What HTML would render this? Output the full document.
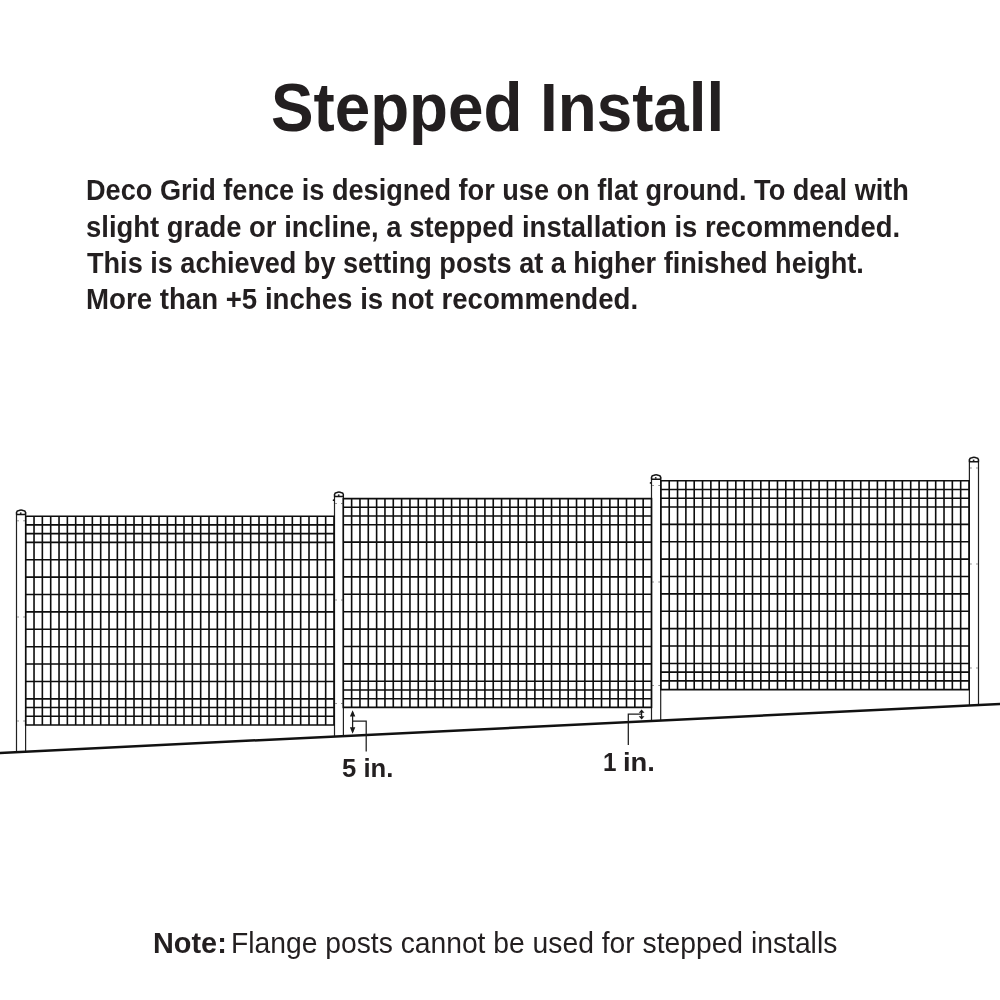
<!DOCTYPE html>
<html lang="en">
<head>
<meta charset="utf-8">
<title>Stepped Install</title>
<style>
html,body{margin:0;padding:0;background:#fff;}
body{width:1000px;height:1000px;position:relative;overflow:hidden;font-family:"Liberation Sans",sans-serif;color:#231f20;}
.t{position:absolute;white-space:nowrap;transform-origin:0 0;font-weight:bold;}
.r{font-weight:normal;}
.fence{position:absolute;left:0;top:0;}
</style>
</head>
<body>

<div class="t" style="left:271.13px;top:67.14px;font-size:68px;line-height:81.6px;transform:scaleX(0.9371)">Stepped Install</div>
<div class="t" style="left:85.76px;top:172.08px;font-size:29.5px;line-height:35.4px;transform:scaleX(0.9201)">Deco Grid fence is designed for use on flat ground. To deal with</div>
<div class="t" style="left:86.27px;top:208.58px;font-size:29.5px;line-height:35.4px;transform:scaleX(0.9300)">slight grade or incline, a stepped installation is recommended.</div>
<div class="t" style="left:87px;top:245.08px;font-size:29.5px;line-height:35.4px;transform:scaleX(0.9185)">This is achieved by setting posts at a higher finished height.</div>
<div class="t" style="left:86.13px;top:281.48px;font-size:29.5px;line-height:35.4px;transform:scaleX(0.9368)">More than +5 inches is not recommended.</div>
<svg class="fence" width="1000" height="1000" viewBox="0 0 1000 1000">
<path d="M16.5 752.09V512.7H25.6V751.65" fill="#fff" stroke="#222" stroke-width="1.2"/>
<path d="M16.6 514.5V512.3Q16.7 510.8 18.9 510.5Q21.05 509.6 23.2 510.5Q25.4 510.8 25.5 512.3V514.5Z" fill="#fff" stroke="#141414" stroke-width="1.5" stroke-linejoin="round"/>
<path d="M19.9 513.2h1.6" fill="none" stroke="#222" stroke-width="1.6"/>
<path d="M17.1 520.8h1.8M25 520.8h-1.8M17.1 617h1.8M25 617h-1.8M17.1 721h1.8M25 721h-1.8" fill="none" stroke="#8a8a8a" stroke-width="1"/>
<path d="M334.5 736.51V494.7H343.4V736.07" fill="#fff" stroke="#222" stroke-width="1.2"/>
<path d="M334.6 496.5V494.3Q334.7 492.8 336.9 492.5Q338.95 491.6 341 492.5Q343.2 492.8 343.3 494.3V496.5Z" fill="#fff" stroke="#141414" stroke-width="1.5" stroke-linejoin="round"/>
<path d="M337.9 495.2h1.6" fill="none" stroke="#222" stroke-width="1.6"/>
<circle cx="333.6" cy="500.2" r="0.9" fill="#111"/>
<path d="M335.1 503.5h1.8M342.8 503.5h-1.8M335.1 600h1.8M342.8 600h-1.8M335.1 703.5h1.8M342.8 703.5h-1.8" fill="none" stroke="#8a8a8a" stroke-width="1"/>
<path d="M651.5 720.98V477.4H660.7V720.53" fill="#fff" stroke="#222" stroke-width="1.2"/>
<path d="M651.6 479.2V477Q651.7 475.5 653.9 475.2Q656.1 474.3 658.3 475.2Q660.5 475.5 660.6 477V479.2Z" fill="#fff" stroke="#141414" stroke-width="1.5" stroke-linejoin="round"/>
<path d="M654.9 477.9h1.6" fill="none" stroke="#222" stroke-width="1.6"/>
<circle cx="650.6" cy="482.9" r="0.9" fill="#111"/>
<path d="M652.1 485.5h1.8M660.1 485.5h-1.8M652.1 582h1.8M660.1 582h-1.8M652.1 685.5h1.8M660.1 685.5h-1.8" fill="none" stroke="#8a8a8a" stroke-width="1"/>
<path d="M969.4 705.4V459.9H978.5V704.95" fill="#fff" stroke="#222" stroke-width="1.2"/>
<path d="M969.5 461.7V459.5Q969.6 458 971.8 457.7Q973.95 456.8 976.1 457.7Q978.3 458 978.4 459.5V461.7Z" fill="#fff" stroke="#141414" stroke-width="1.5" stroke-linejoin="round"/>
<path d="M972.8 460.4h1.6" fill="none" stroke="#222" stroke-width="1.6"/>
<path d="M970 468h1.8M977.9 468h-1.8M970 564h1.8M977.9 564h-1.8M970 668h1.8M977.9 668h-1.8" fill="none" stroke="#8a8a8a" stroke-width="1"/>
<path d="M25.7 515.5V725.7M34.03 515.5V725.7M42.36 515.5V725.7M50.7 515.5V725.7M59.03 515.5V725.7M67.36 515.5V725.7M75.69 515.5V725.7M84.03 515.5V725.7M92.36 515.5V725.7M100.69 515.5V725.7M109.02 515.5V725.7M117.36 515.5V725.7M125.69 515.5V725.7M134.02 515.5V725.7M142.35 515.5V725.7M150.69 515.5V725.7M159.02 515.5V725.7M167.35 515.5V725.7M175.68 515.5V725.7M184.02 515.5V725.7M192.35 515.5V725.7M200.68 515.5V725.7M209.01 515.5V725.7M217.35 515.5V725.7M225.68 515.5V725.7M234.01 515.5V725.7M242.34 515.5V725.7M250.68 515.5V725.7M259.01 515.5V725.7M267.34 515.5V725.7M275.67 515.5V725.7M284.01 515.5V725.7M292.34 515.5V725.7M300.67 515.5V725.7M309 515.5V725.7M317.34 515.5V725.7M325.67 515.5V725.7M334 515.5V725.7M25 516.2H334.7M25 524.92H334.7M25 533.64H334.7M25 542.36H334.7M25 559.75H334.7M25 577.13H334.7M25 594.52H334.7M25 611.91H334.7M25 629.29H334.7M25 646.68H334.7M25 664.07H334.7M25 681.45H334.7M25 698.84H334.7M25 707.56H334.7M25 716.28H334.7M25 725H334.7" fill="none" stroke="#0d0d0d" stroke-width="1.6"/>
<path d="M343.3 497.9V708.1M351.63 497.9V708.1M359.96 497.9V708.1M368.29 497.9V708.1M376.62 497.9V708.1M384.95 497.9V708.1M393.28 497.9V708.1M401.61 497.9V708.1M409.94 497.9V708.1M418.27 497.9V708.1M426.6 497.9V708.1M434.93 497.9V708.1M443.26 497.9V708.1M451.59 497.9V708.1M459.92 497.9V708.1M468.25 497.9V708.1M476.58 497.9V708.1M484.91 497.9V708.1M493.24 497.9V708.1M501.56 497.9V708.1M509.89 497.9V708.1M518.22 497.9V708.1M526.55 497.9V708.1M534.88 497.9V708.1M543.21 497.9V708.1M551.54 497.9V708.1M559.87 497.9V708.1M568.2 497.9V708.1M576.53 497.9V708.1M584.86 497.9V708.1M593.19 497.9V708.1M601.52 497.9V708.1M609.85 497.9V708.1M618.18 497.9V708.1M626.51 497.9V708.1M634.84 497.9V708.1M643.17 497.9V708.1M651.5 497.9V708.1M342.6 498.6H652.2M342.6 507.32H652.2M342.6 516.04H652.2M342.6 524.76H652.2M342.6 542.15H652.2M342.6 559.53H652.2M342.6 576.92H652.2M342.6 594.31H652.2M342.6 611.69H652.2M342.6 629.08H652.2M342.6 646.47H652.2M342.6 663.85H652.2M342.6 681.24H652.2M342.6 689.96H652.2M342.6 698.68H652.2M342.6 707.4H652.2" fill="none" stroke="#0d0d0d" stroke-width="1.6"/>
<path d="M660.9 480.1V690.3M669.23 480.1V690.3M677.55 480.1V690.3M685.88 480.1V690.3M694.21 480.1V690.3M702.54 480.1V690.3M710.86 480.1V690.3M719.19 480.1V690.3M727.52 480.1V690.3M735.84 480.1V690.3M744.17 480.1V690.3M752.5 480.1V690.3M760.82 480.1V690.3M769.15 480.1V690.3M777.48 480.1V690.3M785.81 480.1V690.3M794.13 480.1V690.3M802.46 480.1V690.3M810.79 480.1V690.3M819.11 480.1V690.3M827.44 480.1V690.3M835.77 480.1V690.3M844.09 480.1V690.3M852.42 480.1V690.3M860.75 480.1V690.3M869.08 480.1V690.3M877.4 480.1V690.3M885.73 480.1V690.3M894.06 480.1V690.3M902.38 480.1V690.3M910.71 480.1V690.3M919.04 480.1V690.3M927.36 480.1V690.3M935.69 480.1V690.3M944.02 480.1V690.3M952.35 480.1V690.3M960.67 480.1V690.3M969 480.1V690.3M660.2 480.8H969.7M660.2 489.52H969.7M660.2 498.24H969.7M660.2 506.96H969.7M660.2 524.35H969.7M660.2 541.73H969.7M660.2 559.12H969.7M660.2 576.51H969.7M660.2 593.89H969.7M660.2 611.28H969.7M660.2 628.67H969.7M660.2 646.05H969.7M660.2 663.44H969.7M660.2 672.16H969.7M660.2 680.88H969.7M660.2 689.6H969.7" fill="none" stroke="#0d0d0d" stroke-width="1.6"/>
<path d="M-2 753L1002 703.8" stroke="#111" stroke-width="2.5" fill="none"/>
<g stroke="#1c1c1c" stroke-width="1.25" fill="none">
<path d="M352.6 712V732M352.6 721.2H366.2V751.6"/>
<path d="M641.6 711V718.5M641.6 714.2H628.3V744.9"/>
</g>
<g fill="#1a1a1a">
<path d="M352.6 710.2L355.3 716.6H349.9ZM352.6 733.8L355.3 727.2H349.9Z"/>
<path d="M641.6 709.6L644.5 712.7H638.7ZM641.6 719.6L644.5 716.2H638.7Z"/>
</g>
</svg>
<div class="t" style="left:341.99px;top:753.46px;font-size:25.5px;line-height:30.6px;transform:scaleX(1.0063)">5 in.</div>
<div class="t" style="left:603.4px;top:746.86px;font-size:25.5px;line-height:30.6px;transform:scaleX(0.9500)">1</div>
<div class="t" style="left:622.65px;top:746.86px;font-size:25.5px;line-height:30.6px;transform:scaleX(1.0731)">in.</div>
<div class="t" style="left:152.54px;top:924.98px;font-size:29.5px;line-height:35.4px;transform:scaleX(0.9786)">Note:</div>
<div class="t r" style="left:230.68px;top:924.98px;font-size:29.5px;line-height:35.4px;transform:scaleX(0.9578)">Flange posts cannot be used for stepped installs</div>
</body>
</html>
